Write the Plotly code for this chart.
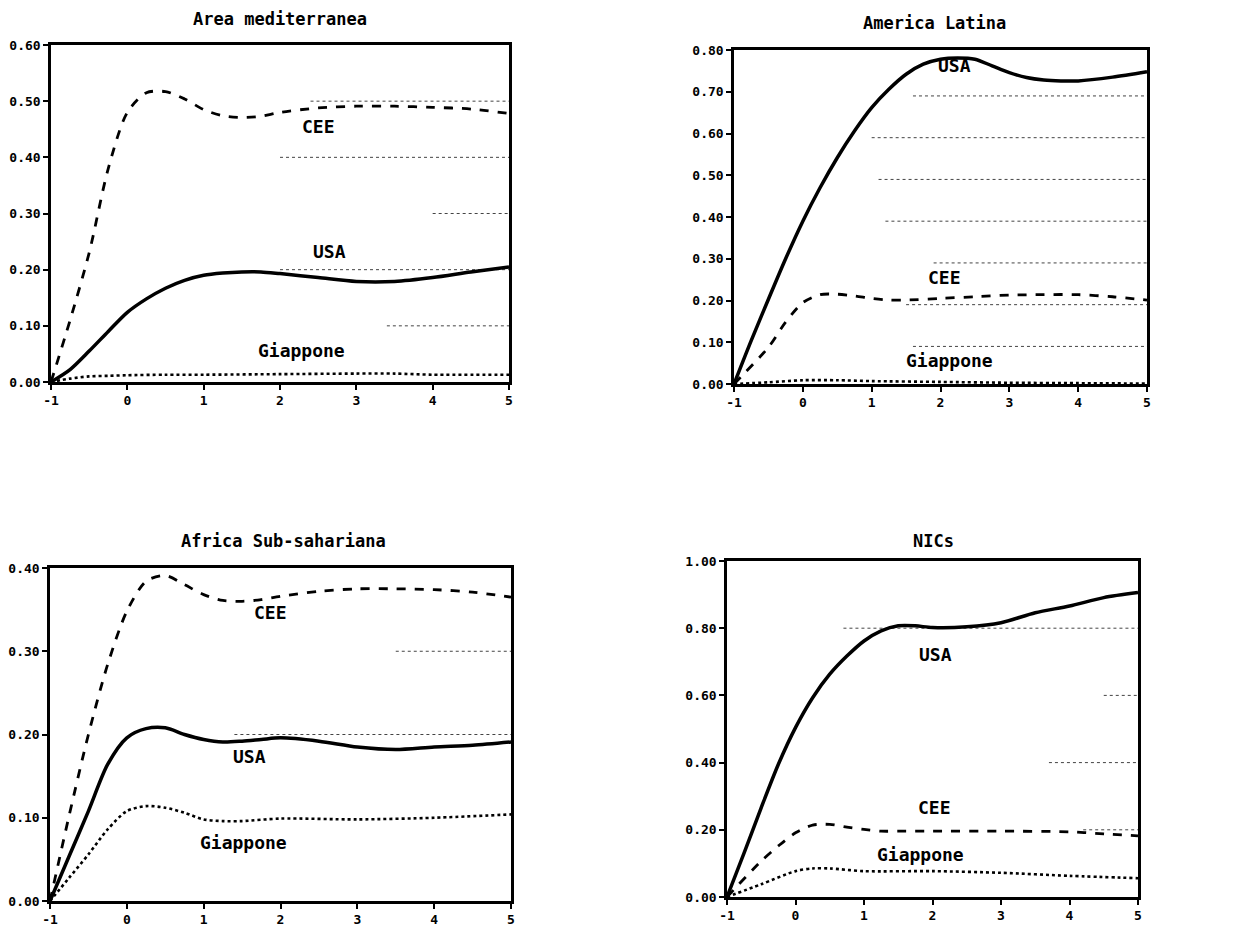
import plotly.graph_objects as go

# ---------------- data ----------------
titles = ["Area mediterranea", "America Latina", "Africa Sub-sahariana", "NICs"]
series_names = ["USA", "CEE", "Giappone"]

# Area mediterranea
med_x = [-1, -0.75, -0.5, -0.25, 0, 0.25, 0.5, 0.75, 1, 1.25, 1.5, 1.75, 2, 2.5, 3, 3.5, 4, 4.5, 5]
med_usa = [0, 0.022, 0.055, 0.09, 0.124, 0.148, 0.167, 0.181, 0.19, 0.194, 0.196, 0.196, 0.193, 0.186, 0.179, 0.179, 0.186, 0.196, 0.205]
med_cee = [0, 0.11, 0.23, 0.38, 0.48, 0.515, 0.517, 0.504, 0.485, 0.474, 0.471, 0.473, 0.48, 0.488, 0.491, 0.491, 0.489, 0.486, 0.478]
med_gia_x = [-1, -0.75, -0.5, -0.25, 0, 0.5, 1, 2, 3, 3.5, 4, 5]
med_gia = [0, 0.006, 0.01, 0.011, 0.012, 0.013, 0.013, 0.014, 0.015, 0.015, 0.013, 0.013]

# America Latina
lat_usa_x = [-1, -0.75, -0.5, -0.25, 0, 0.25, 0.5, 0.75, 1, 1.25, 1.5, 1.75, 2, 2.25, 2.5, 2.75, 3, 3.25, 3.5, 3.75, 4, 4.5, 5]
lat_usa = [0, 0.104, 0.203, 0.30, 0.39, 0.47, 0.542, 0.606, 0.662, 0.706, 0.742, 0.766, 0.778, 0.781, 0.778, 0.762, 0.746, 0.734, 0.728, 0.726, 0.726, 0.735, 0.748]
lat_cee_x = [-1, -0.5, -0.25, 0, 0.25, 0.5, 0.75, 1, 1.25, 1.5, 2, 2.5, 3, 3.5, 4, 4.5, 5]
lat_cee = [0, 0.088, 0.148, 0.195, 0.214, 0.215, 0.211, 0.205, 0.201, 0.201, 0.205, 0.209, 0.213, 0.214, 0.214, 0.209, 0.201]
lat_gia_x = [-1, -0.5, 0, 0.5, 1, 2, 3, 4, 5]
lat_gia = [0, 0.004, 0.009, 0.009, 0.007, 0.005, 0.003, 0.002, 0.001]

# Africa Sub-sahariana
afr_x = [-1, -0.75, -0.5, -0.25, 0, 0.25, 0.5, 0.75, 1, 1.25, 1.5, 1.75, 2, 2.5, 3, 3.5, 4, 4.5, 5]
afr_usa = [0, 0.054, 0.108, 0.164, 0.196, 0.207, 0.208, 0.2, 0.194, 0.191, 0.192, 0.194, 0.196, 0.192, 0.185, 0.182, 0.185, 0.187, 0.191]
afr_cee = [0, 0.103, 0.2, 0.284, 0.348, 0.384, 0.391, 0.38, 0.368, 0.361, 0.36, 0.362, 0.366, 0.372, 0.375, 0.375, 0.374, 0.371, 0.365]
afr_gia_x = [-1, -0.75, -0.5, -0.25, 0, 0.25, 0.5, 0.75, 1, 1.25, 1.5, 2, 3, 4, 5]
afr_gia = [0, 0.028, 0.056, 0.086, 0.108, 0.114, 0.112, 0.106, 0.098, 0.096, 0.096, 0.099, 0.098, 0.1, 0.104]

# NICs
nic_usa_x = [-1, -0.75, -0.5, -0.25, 0, 0.25, 0.5, 0.75, 1, 1.25, 1.5, 1.75, 2, 2.5, 3, 3.5, 4, 4.5, 5]
nic_usa = [0, 0.131, 0.266, 0.395, 0.504, 0.593, 0.663, 0.717, 0.762, 0.792, 0.807, 0.807, 0.802, 0.804, 0.816, 0.846, 0.866, 0.891, 0.906]
nic_cee_x = [-1, -0.5, -0.25, 0, 0.25, 0.5, 0.75, 1, 1.25, 1.5, 2, 3, 4, 4.5, 5]
nic_cee = [0, 0.107, 0.152, 0.191, 0.214, 0.216, 0.208, 0.201, 0.196, 0.196, 0.196, 0.196, 0.194, 0.188, 0.182]
nic_gia_x = [-1, -0.5, 0, 0.25, 0.5, 1, 2, 3, 4, 5]
nic_gia = [0, 0.038, 0.077, 0.085, 0.085, 0.077, 0.077, 0.072, 0.063, 0.056]

# label positions (x, y) per panel: USA, CEE, Giappone
label_pos = [
    [(2.65, 0.232), (2.5, 0.455), (2.28, 0.056)],
    [(2.2, 0.762), (2.06, 0.255), (2.13, 0.056)],
    [(1.6, 0.174), (1.87, 0.346), (1.52, 0.07)],
    [(2.04, 0.722), (2.03, 0.266), (1.83, 0.127)],
]

y_max = [0.6, 0.8, 0.4, 1.0]
y_step = [0.1, 0.1, 0.1, 0.2]

# faint partial dotted gridlines (y, x0) as seen on the scan
grid_partial = [
    [(0.5, 2.4), (0.4, 2.0), (0.3, 4.0), (0.2, 2.0), (0.1, 3.4)],
    [(0.69, 1.6), (0.59, 1.0), (0.49, 1.1), (0.39, 1.2), (0.29, 1.9), (0.19, 1.5), (0.09, 1.6)],
    [(0.3, 3.5), (0.2, 1.4)],
    [(0.8, 0.7), (0.6, 4.5), (0.4, 3.7), (0.2, 4.2)],
]

panels = [
    [(med_x, med_usa), (med_x, med_cee), (med_gia_x, med_gia)],
    [(lat_usa_x, lat_usa), (lat_cee_x, lat_cee), (lat_gia_x, lat_gia)],
    [(afr_x, afr_usa), (afr_x, afr_cee), (afr_gia_x, afr_gia)],
    [(nic_usa_x, nic_usa), (nic_cee_x, nic_cee), (nic_gia_x, nic_gia)],
]

# ---------------- layout ----------------
W, H = 1253, 932
OFF = 7  # page body margin offset
px_boxes = [  # left, right, top, bottom in page pixels
    (50, 508, 44, 381),
    (733, 1146, 49, 383),
    (49, 510, 567, 900),
    (726, 1137, 560, 896),
]
title_px = [(279, 18), (933, 22), (282, 540), (932, 540)]

FONT = "DejaVu Sans Mono"
styles = [
    dict(color="black", width=3.5, dash="solid"),
    dict(color="black", width=2.8, dash="dash"),
    dict(color="black", width=2.6, dash="dot"),
]

fig = go.Figure()
annotations = []
shapes = []
layout_axes = {}

for i in range(4):
    xa = "x" if i == 0 else f"x{i+1}"
    ya = "y" if i == 0 else f"y{i+1}"
    xk = "xaxis" if i == 0 else f"xaxis{i+1}"
    yk = "yaxis" if i == 0 else f"yaxis{i+1}"
    l, r, t, b = [v - OFF for v in px_boxes[i]]
    for j, (xs, ys) in enumerate(panels[i]):
        fig.add_trace(go.Scatter(
            x=xs, y=ys, mode="lines", name=series_names[j],
            line=dict(shape="spline", smoothing=0.8, **styles[j]),
            xaxis=xa, yaxis=ya, showlegend=False, cliponaxis=False,
        ))
    n = int(round(y_max[i] / y_step[i]))
    tv = [round(k * y_step[i], 2) for k in range(n + 1)]
    common = dict(
        showgrid=False, zeroline=False, showline=True, linecolor="black", linewidth=2.5,
        mirror=True, ticks="outside", ticklen=5, tickwidth=2, tickcolor="black",
        automargin=False,
        tickfont=dict(family=FONT, size=13, color="black", weight="bold"),
    )
    layout_axes[xk] = dict(
        domain=[l / W, r / W], range=[-1, 5], anchor=ya,
        tickvals=[-1, 0, 1, 2, 3, 4, 5], ticktext=["-1", "0", "1", "2", "3", "4", "5"],
        **common,
    )
    layout_axes[yk] = dict(
        domain=[1 - b / H, 1 - t / H], range=[0, y_max[i]], anchor=xa,
        tickvals=tv, ticktext=[f"{v:.2f}" for v in tv],
        **common,
    )
    for j, (lx, ly) in enumerate(label_pos[i]):
        annotations.append(dict(
            x=lx, y=ly, xref=xa, yref=ya, text=series_names[j], showarrow=False,
            xanchor="center", yanchor="middle",
            font=dict(family=FONT, size=18, color="black", weight="bold"),
        ))
    tx, ty = title_px[i]
    annotations.append(dict(
        x=(tx - OFF) / W, y=1 - (ty - OFF) / H, xref="paper", yref="paper", text=titles[i],
        showarrow=False, xanchor="center", yanchor="middle",
        font=dict(family=FONT, size=17, color="black", weight="bold"),
    ))
    for gy, gx0 in grid_partial[i]:
        shapes.append(dict(
            type="line", xref=xa, yref=ya, x0=gx0, x1=5, y0=gy, y1=gy,
            line=dict(color="#444", width=1, dash="dot"), layer="below",
        ))

fig.update_layout(
    width=W, height=H, margin=dict(l=0, r=0, t=0, b=0, pad=0),
    paper_bgcolor="white", plot_bgcolor="white",
    annotations=annotations, shapes=shapes, showlegend=False,
    **layout_axes,
)

fig.write_html("out.html")
